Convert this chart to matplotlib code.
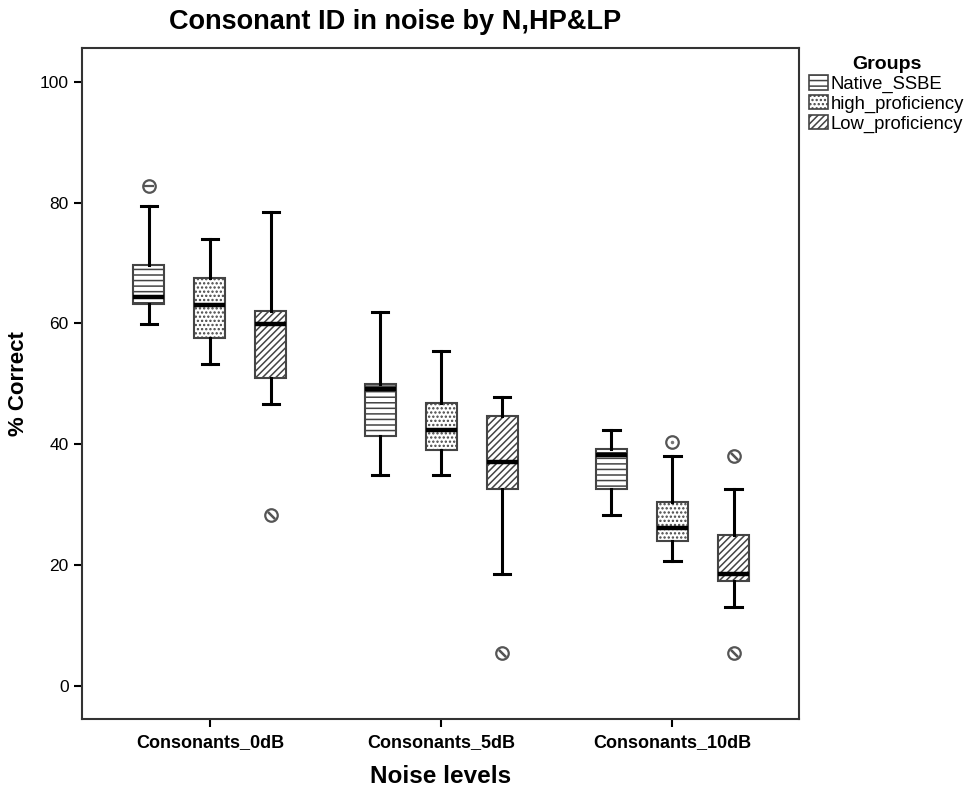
import numpy as np
import matplotlib.pyplot as plt
from matplotlib.patches import Patch

plt.rcParams["font.family"] = ["Liberation Sans", "DejaVu Sans"]
plt.rcParams["hatch.linewidth"] = 1.1

# data (% correct)
levels = ["Consonants_0dB", "Consonants_5dB", "Consonants_10dB"]
groups = ["Native_SSBE", "high_proficiency", "Low_proficiency"]

native_lo = [59.9, 34.9, 28.2]
native_q1 = [63.2, 41.4, 32.6]
native_med = [64.3, 49.1, 38.2]
native_q3 = [69.6, 49.9, 39.2]
native_hi = [79.4, 61.9, 42.4]
native_out = [[82.7], [], []]

hp_lo = [53.2, 34.9, 20.7]
hp_q1 = [57.6, 39.1, 23.9]
hp_med = [63.1, 42.4, 26.2]
hp_q3 = [67.5, 46.8, 30.5]
hp_hi = [73.9, 55.5, 38.1]
hp_out = [[], [], [40.3]]

lp_lo = [46.7, 18.5, 13.1]
lp_q1 = [51.0, 32.6, 17.4]
lp_med = [59.9, 37.0, 18.5]
lp_q3 = [62.0, 44.6, 25.0]
lp_hi = [78.4, 47.8, 32.6]
lp_out = [[28.3], [5.5], [38.1, 5.4]]

series = [
    (native_lo, native_q1, native_med, native_q3, native_hi, native_out),
    (hp_lo, hp_q1, hp_med, hp_q3, hp_hi, hp_out),
    (lp_lo, lp_q1, lp_med, lp_q3, lp_hi, lp_out),
]
hatches = ["---", "....", "/////"]
inner_marks = ["_", None, (2, 2, 45)]
offsets = [-0.264, 0.0, 0.264]
edge = "#444444"

fig = plt.figure(figsize=(9.7, 7.9), dpi=100)
ax = fig.add_axes([0.0845, 0.0899, 0.7392, 0.8493])

x = np.arange(len(levels))
for k, (lo, q1, med, q3, hi, out) in enumerate(series):
    stats = []
    for i in range(len(levels)):
        stats.append({"whislo": lo[i], "q1": q1[i], "med": med[i],
                      "q3": q3[i], "whishi": hi[i], "fliers": out[i]})
    pos = x + offsets[k]
    bp = ax.bxp(stats, positions=pos, widths=0.134, capwidths=0.07,
                patch_artist=True, manage_ticks=False,
                boxprops=dict(facecolor="white", edgecolor=edge, linewidth=1.5),
                medianprops=dict(color="black", linewidth=3.2),
                whiskerprops=dict(color="black", linewidth=2.2),
                capprops=dict(color="black", linewidth=2.2),
                flierprops=dict(marker="o", markersize=9, markerfacecolor="white",
                                markeredgecolor="#555555", markeredgewidth=1.6))
    for b in bp["boxes"]:
        b.set_hatch(hatches[k])
    if inner_marks[k] is not None:
        for i in range(len(levels)):
            for v in out[i]:
                ax.plot(pos[i], v, marker=inner_marks[k], markersize=7,
                        color="#555555", markeredgewidth=1.6)
    else:
        for i in range(len(levels)):
            for v in out[i]:
                ax.plot(pos[i], v, marker=".", markersize=3, color="#777777")

ax.set_xlim(-0.553, 2.547)
ax.set_ylim(-5.5, 105.6)
ax.set_xticks(x)
ax.set_xticklabels(levels, fontsize=13, fontweight="bold")
ax.set_yticks(np.arange(0, 101, 20))
ax.tick_params(axis="y", labelsize=12.5, length=6, width=1.5)
ax.tick_params(axis="x", length=6, width=1.5, pad=5)
for s in ax.spines.values():
    s.set_color("#333333")
    s.set_linewidth(1.5)

ax.set_xlabel("Noise levels", fontsize=17.5, fontweight="bold", labelpad=10)
ax.set_ylabel("% Correct", fontsize=16, fontweight="bold", labelpad=8)
fig.text(0.407, 0.972, "Consonant ID in noise by N,HP&LP", fontsize=19.5,
         fontweight="bold", ha="center", va="center")

handles = [Patch(facecolor="white", edgecolor=edge, hatch=h, linewidth=1.2)
           for h in hatches]
leg = fig.legend(handles, groups, loc="upper left",
                 bbox_to_anchor=(0.823, 0.943), frameon=False, fontsize=13.3,
                 title="Groups", title_fontproperties={"weight": "bold", "size": 14},
                 handlelength=1.0, handleheight=0.85, handletextpad=0.15,
                 labelspacing=0.1, borderpad=0.1)

fig.savefig("out.png", dpi=100)
